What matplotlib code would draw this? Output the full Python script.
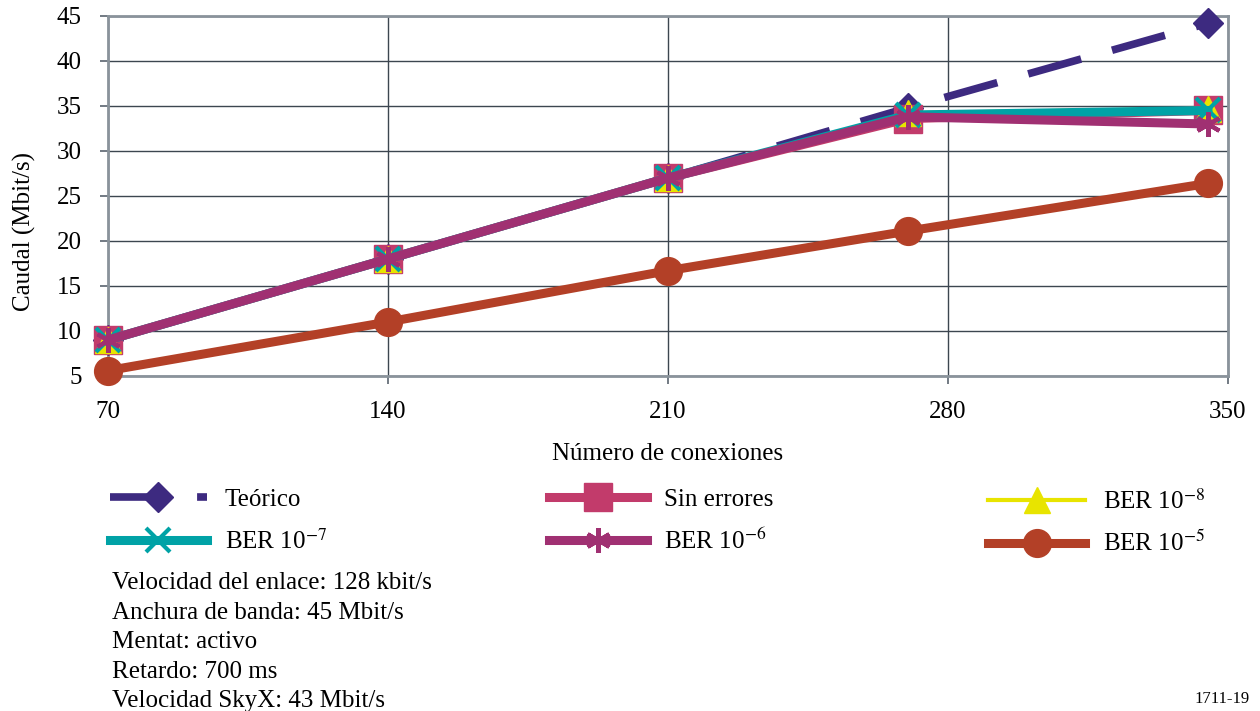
import matplotlib.pyplot as plt

plt.rcParams['font.family'] = ['Liberation Serif', 'DejaVu Serif']
plt.rcParams['mathtext.fontset'] = 'stix'

# data
conexiones = [70, 140, 210, 270, 345]
teorico = [9.0, 18.0, 27.0, 34.8, 44.2]
sin_errores = [9.0, 18.0, 27.0, 33.6, 34.5]
ber_8 = [9.0, 18.0, 27.0, 34.2, 34.7]
ber_7 = [9.0, 18.0, 27.0, 34.0, 34.5]
ber_6 = [9.0, 18.0, 27.0, 33.8, 33.0]
ber_5 = [5.6, 11.0, 16.7, 21.1, 26.4]

notas = ['Velocidad del enlace: 128 kbit/s',
         'Anchura de banda: 45 Mbit/s',
         'Mentat: activo',
         'Retardo: 700 ms',
         'Velocidad SkyX: 43 Mbit/s']

c_teo = '#3d2a80'
c_sin = '#c23b6b'
c_b8 = '#e8e400'
c_b7 = '#00a2a6'
c_b6 = '#a03072'
c_b5 = '#b34027'

fs = 18
fig = plt.figure(figsize=(12.6, 7.11), dpi=100)
ax = fig.add_axes([0.0857, 0.4712, 0.8889, 0.5063])

lw = 6.5
l_teo, = ax.plot(conexiones, teorico, color=c_teo, lw=5.5, dashes=(7.2, 4.2),
                 marker='D', ms=15, zorder=3, clip_on=False)
l_sin, = ax.plot(conexiones, sin_errores, color=c_sin, lw=lw, marker='s',
                 ms=20, zorder=4, clip_on=False)
l_b8, = ax.plot(conexiones, ber_8, color=c_b8, lw=3, marker='^', ms=19,
                zorder=5, clip_on=False)
l_b7, = ax.plot(conexiones, ber_7, color=c_b7, lw=lw, marker='x', ms=17,
                mew=3, zorder=6, clip_on=False)
l_b6, = ax.plot(conexiones, ber_6, color=c_b6, lw=lw, marker=(6, 2, 0),
                ms=18, mew=3, zorder=7, clip_on=False)
l_b5, = ax.plot(conexiones, ber_5, color=c_b5, lw=lw, marker='o', ms=20,
                zorder=8, clip_on=False)

ax.set_xlim(70, 350)
ax.set_ylim(5, 45)
ax.set_xticks([70, 140, 210, 280, 350])
ax.set_yticks(range(5, 50, 5))
ax.grid(True, color='#3c4650', lw=1)
ax.set_axisbelow(True)
for s in ax.spines.values():
    s.set_color('#8a939b')
    s.set_linewidth(2)
ax.tick_params(length=6, width=1.2, color='#5a646e', labelsize=fs)
ax.tick_params(axis='y', pad=13)
ax.tick_params(axis='x', pad=12)
ax.set_xlabel('Número de conexiones', fontsize=fs, va='top')
ax.set_ylabel('Caudal (Mbit/s)', fontsize=fs)
ax.xaxis.set_label_coords(0.5, -0.186)
ax.yaxis.set_label_coords(-0.064, 0.4)

# legend in three columns
cols = [([l_teo, l_b7], ['Teórico', 'BER 10$^{-7}$'], 0.079),
        ([l_sin, l_b6], ['Sin errores', 'BER 10$^{-6}$'], 0.428),
        ([l_b8, l_b5], ['BER 10$^{-8}$', 'BER 10$^{-5}$'], 0.776)]
for handles, labels, xpos in cols:
    fig.legend(handles, labels, loc='upper left', bbox_to_anchor=(xpos, 0.327),
               frameon=False, fontsize=fs, handlelength=3.9, labelspacing=0.7,
               handletextpad=0.7, borderaxespad=0)

for i, t in enumerate(notas):
    fig.text(0.089, 0.180 - i * 0.0415, t, fontsize=fs, va='center')

fig.text(0.992, 0.005, '1711-19', fontsize=12, ha='right', va='bottom')

fig.savefig('out.png', dpi=100)
